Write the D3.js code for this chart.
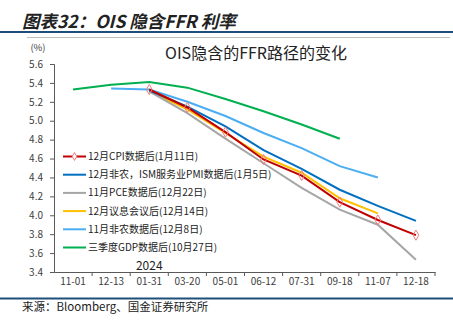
<!DOCTYPE html>
<html><head><meta charset="utf-8">
<script src="https://cdn.jsdelivr.net/npm/d3@7/dist/d3.min.js"></script>
<style>
body{margin:0;background:#fff;}
svg{display:block;font-family:"Noto Sans CJK SC","Noto Sans",sans-serif;}
</style></head>
<body><svg id="c" width="453" height="322"></svg>
<script>
const categories = ["11-01","12-13","01-31","03-20","05-01","06-12","07-31","09-18","11-07","12-18"];
const yTicks = [3.4,3.6,3.8,4.0,4.2,4.4,4.6,4.8,5.0,5.2,5.4,5.6];
const seriesNames = [
  "12月CPI数据后(1月11日)",
  "12月非农，ISM服务业PMI数据后(1月5日)",
  "11月PCE数据后(12月22日)",
  "12月议息会议后(12月14日)",
  "11月非农数据后(12月8日)",
  "三季度GDP数据后(10月27日)"
];
const cpiJan11   = [null,null,5.33,5.14,4.88,4.59,4.42,4.14,3.95,3.79];
const nfpJan5    = [null,null,5.32,5.15,4.94,4.69,4.49,4.27,4.10,3.94];
const pceDec22   = [null,null,5.31,5.08,4.81,4.55,4.29,4.06,3.90,3.53];
const fomcDec14  = [null,null,5.31,5.12,4.87,4.62,4.45,4.18,4.02,null];
const nfpDec8    = [null,5.34,5.33,5.20,5.05,4.87,4.71,4.52,4.40,null];
const gdpOct27   = [5.33,5.38,5.41,5.35,5.23,5.10,4.96,4.81,null,null];
const colors = ["#C00000","#0070C0","#A6A6A6","#FFC000","#4BAEF2","#00B050"];
const allSeries = [cpiJan11,nfpJan5,pceDec22,fomcDec14,nfpDec8,gdpOct27];

const svg = d3.select("#c");
// header
svg.append("text").attr("x",22).attr("y",28).attr("font-size",17.5).attr("font-style","italic")
  .attr("font-weight","bold").attr("fill","#222").text("图表32：OIS 隐含FFR 利率");
svg.append("line").attr("x1",0).attr("x2",453).attr("y1",32).attr("y2",32).attr("stroke","#1F4E79").attr("stroke-width",2);
svg.append("line").attr("x1",27).attr("x2",450).attr("y1",37.5).attr("y2",37.5).attr("stroke","#BFBFBF").attr("stroke-width",1);
// footer
svg.append("line").attr("x1",0).attr("x2",453).attr("y1",298.5).attr("y2",298.5).attr("stroke","#1F4E79").attr("stroke-width",2);
svg.append("text").attr("x",22).attr("y",311).attr("font-size",11.5).attr("fill","#222").text("来源：Bloomberg、国金证券研究所");

const x = d3.scaleBand().domain(categories).range([54,435]);
const y = d3.scaleLinear().domain([3.4,5.6]).range([272,64]);
const axisColor = "#595959";

// chart title
svg.append("text").attr("x",256).attr("y",59).attr("text-anchor","middle").attr("font-size",16).attr("fill","#222")
  .text("OIS隐含的FFR路径的变化");
svg.append("text").attr("x",38).attr("y",51).attr("text-anchor","middle").attr("font-size",9.5).attr("fill","#404040").text("(%)");

// y axis
const yAxis = svg.append("g").attr("transform","translate(54,0)")
  .call(d3.axisLeft(y).tickValues(yTicks).tickFormat(d3.format(".1f")).tickSize(4).tickPadding(7));
yAxis.select(".domain").attr("stroke",axisColor);
yAxis.selectAll(".tick line").attr("stroke",axisColor);
yAxis.selectAll("text").attr("font-size",10).attr("fill","#404040").attr("font-family","'Noto Sans CJK SC',sans-serif");

// x axis
const xAxis = svg.append("g").attr("transform","translate(0,272)")
  .call(d3.axisBottom(x).tickSize(0).tickPadding(6));
xAxis.select(".domain").attr("stroke",axisColor);
xAxis.selectAll("text").attr("font-size",10).attr("fill","#404040").attr("font-family","'Noto Sans CJK SC',sans-serif");
xAxis.selectAll(".bnd").data(categories).enter().append("line").attr("class","bnd")
  .attr("x1",d=>x(d)+x.bandwidth()).attr("x2",d=>x(d)+x.bandwidth()).attr("y1",0).attr("y2",4).attr("stroke",axisColor);

// 2024 label
svg.append("text").attr("x",x("01-31")+x.bandwidth()/2).attr("y",269.5).attr("text-anchor","middle")
  .attr("font-size",12).attr("fill","#222").text("2024");

const line = d3.line().defined(d=>d!=null).x((d,i)=>x(categories[i])+x.bandwidth()/2).y(d=>y(d));
const order = [5,4,3,2,1,0];
order.forEach(k=>{
  svg.append("path").datum(allSeries[k]).attr("d",line).attr("fill","none")
    .attr("stroke",colors[k]).attr("stroke-width",2);
});
const diamond = d3.symbol().type(d3.symbolDiamond).size(30);
svg.selectAll(".mk").data(cpiJan11.map((v,i)=>({v,i})).filter(d=>d.v!=null)).enter().append("path")
  .attr("class","mk").attr("d",diamond)
  .attr("transform",d=>`translate(${x(categories[d.i])+x.bandwidth()/2},${y(d.v)})`)
  .attr("fill","none").attr("stroke","#F47C7C").attr("stroke-width",1);

// legend
const lg = svg.append("g");
seriesNames.forEach((n,i)=>{
  const yy = 156.5 + i*18.2;
  lg.append("line").attr("x1",63).attr("x2",86).attr("y1",yy).attr("y2",yy).attr("stroke",colors[i]).attr("stroke-width",2);
  if(i===0){
    lg.append("path").attr("d",d3.symbol().type(d3.symbolDiamond).size(18)).attr("transform",`translate(74.5,${yy})`)
      .attr("fill","#fff").attr("stroke","#F47C7C").attr("stroke-width",1);
  }
  lg.append("text").attr("x",88).attr("y",yy+3.4).attr("font-size",10).attr("fill","#222").text(n);
});
</script></body></html>
